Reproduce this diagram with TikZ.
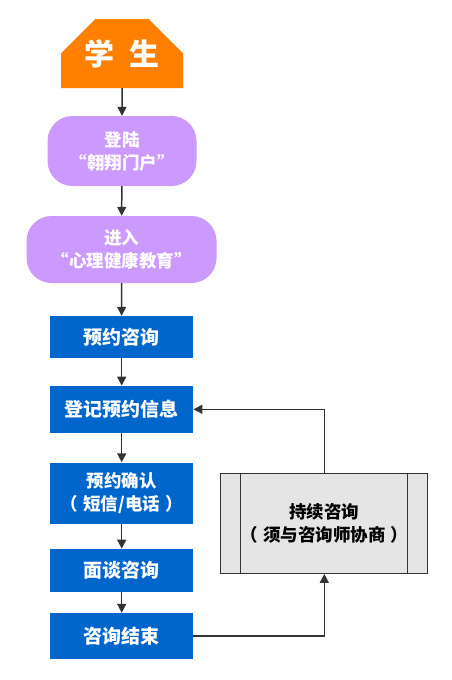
\documentclass[tikz,border=0pt]{standalone}
\usepackage{fontspec}
\newfontfamily\cjk{Noto Sans CJK SC}
\usepackage{tikz}
\usetikzlibrary{arrows.meta}
\usetikzlibrary{shapes.misc}
\definecolor{stuorange}{HTML}{FF8000}
\definecolor{portal}{HTML}{CC99FF}
\definecolor{stepblue}{HTML}{0066CC}
\definecolor{linegray}{HTML}{333333}
\definecolor{boxgray}{HTML}{E5E5E5}
\newcommand*\paren[1]{（\hspace{0.3em}#1\hspace{0.3em}）}

\begin{document}
\begin{tikzpicture}[x=1pt,y=-1pt,>={Triangle[length=9pt,width=9pt]},font=\cjk\bfseries]
			\tikzstyle{student}=[chamfered rectangle,chamfered rectangle corners={north west,north east},chamfered rectangle xsep=20pt,chamfered rectangle ysep=20pt,fill=stuorange,text=white,minimum width=122pt,minimum height=69pt,inner sep=0pt,font=\cjk\bfseries\fontsize{30}{34}\selectfont];
			\tikzstyle{portalbox}=[rectangle,rounded corners=25pt,fill=portal,text=white,align=center,font=\cjk\bfseries\fontsize{17.5}{23}\selectfont];
			\tikzstyle{stepbox}=[rectangle,fill=stepblue,text=white,align=center,minimum width=143pt,font=\cjk\bfseries\fontsize{19}{23}\selectfont];
			\tikzstyle{longbox}=[rectangle,draw=linegray,line width=1.2pt,fill=boxgray,align=center,minimum width=207pt,minimum height=100pt,font=\cjk\bfseries\fontsize{17.5}{23}\selectfont,
				path picture={\draw[linegray,line width=1.2pt]([xshift=20pt]path picture bounding box.north west)--([xshift=20pt]path picture bounding box.south west);
				\draw[linegray,line width=1.2pt]([xshift=-20pt]path picture bounding box.north east)--([xshift=-20pt]path picture bounding box.south east);}];
			\tikzstyle{flow}=[->,draw=linegray,line width=1.5pt];
			\useasboundingbox (0,0) rectangle (451,680);
			\node[student](stu)at(122,53.5){学\hspace{0.5em}生};
			\node[portalbox,minimum width=149pt,minimum height=70pt](login)at(122,151){登陆\\“翱翔门户”};
			\node[portalbox,minimum width=190pt,minimum height=67pt](enter)at(121.5,249.5){进入\\“心理健康教育”};
			\node[stepbox,minimum height=42pt](book)at(121.7,337){预约咨询};
			\node[stepbox,minimum height=47pt](record)at(121.7,409.3){登记预约信息};
			\node[stepbox,minimum height=61pt,font=\cjk\bfseries\fontsize{17.5}{23}\selectfont](confirm)at(121.7,493){预约确认\\\paren{短信/电话}};
			\node[stepbox,minimum height=43pt](talk)at(121.7,570.3){面谈咨询};
			\node[stepbox,minimum height=46pt](finish)at(121.7,636){咨询结束};
			\node[longbox](cont)at(324.3,523.3){持续咨询\\\paren{须与咨询师协商}};
			\draw[flow](stu)--(login);
			\draw[flow](login)--(enter);
			\draw[flow](enter)--(book);
			\draw[flow](book)--(record);
			\draw[flow](record)--(confirm);
			\draw[flow](confirm)--(talk);
			\draw[flow](talk)--(finish);
			\draw[flow](finish.east)-|(cont.south);
			\draw[flow](cont.north)|-(record.east);
		\end{tikzpicture}
\end{document}
